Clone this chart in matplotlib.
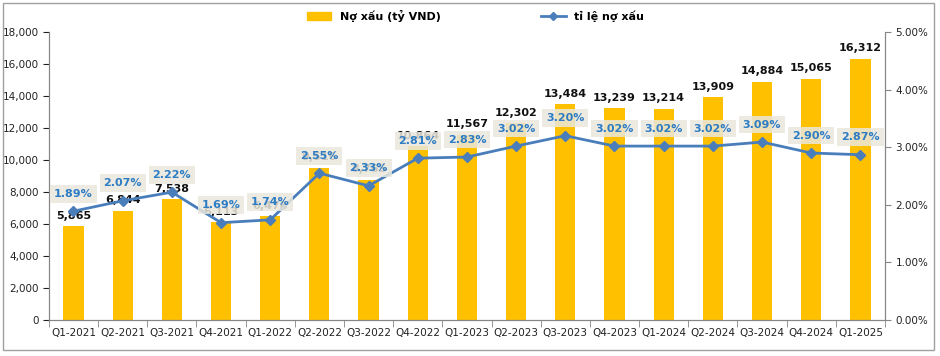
import matplotlib.pyplot as plt
import matplotlib.patches as mpatches
from matplotlib.lines import Line2D
from matplotlib.ticker import FuncFormatter, FixedLocator

quy = ["Q1-2021", "Q2-2021", "Q3-2021", "Q4-2021", "Q1-2022", "Q2-2022", "Q3-2022",
       "Q4-2022", "Q1-2023", "Q2-2023", "Q3-2023", "Q4-2023", "Q1-2024", "Q2-2024",
       "Q3-2024", "Q4-2024", "Q1-2025"]
no_xau = [5865, 6844, 7538, 6113, 6478, 9516, 8765, 10864, 11567, 12302, 13484,
          13239, 13214, 13909, 14884, 15065, 16312]
ti_le = [1.89, 2.07, 2.22, 1.69, 1.74, 2.55, 2.33, 2.81, 2.83, 3.02, 3.20,
         3.02, 3.02, 3.02, 3.09, 2.90, 2.87]

mau_cot = "#FFC000"
mau_duong = "#4A7EBB"
mau_chu_xanh = "#2E7CC4"
mau_truc = "#868686"

plt.rcParams["font.family"] = ["DejaVu Sans"]

fig = plt.figure(figsize=(9.4, 3.56), dpi=100)
ax = fig.add_axes([0.052, 0.101, 0.8895, 0.809])
ax2 = ax.twinx()

x = list(range(len(quy)))
ax.bar(x, no_xau, width=0.41, color=mau_cot, zorder=2)
ax.set_ylim(0, 18000)
ax.set_xlim(-0.5, len(quy) - 0.5)
ax.set_yticks(range(0, 18001, 2000))
ax.yaxis.set_major_formatter(FuncFormatter(lambda v, p: f"{int(v):,}"))
ax.set_xticks(x)
ax.set_xticklabels(quy)
ax.xaxis.set_minor_locator(FixedLocator([i - 0.5 for i in range(len(quy) + 1)]))
ax.tick_params(axis="x", which="major", length=0, labelsize=7.5, pad=6, colors="#222222")
ax.tick_params(axis="x", which="minor", length=5, color=mau_truc, direction="out")
ax.tick_params(axis="y", length=4, color=mau_truc, labelsize=7.5, colors="#222222")

ax2.plot(x, ti_le, color=mau_duong, linewidth=2, marker="D", markersize=5, zorder=3)
ax2.set_ylim(0, 5)
ax2.set_yticks([0, 1, 2, 3, 4, 5])
ax2.yaxis.set_major_formatter(FuncFormatter(lambda v, p: f"{v:.2f}%"))
ax2.tick_params(axis="y", length=4, color=mau_truc, labelsize=7.5, colors="#222222")

for a in (ax, ax2):
    a.spines["top"].set_visible(False)
    for s in ("left", "right", "bottom"):
        a.spines[s].set_color(mau_truc)
ax.tick_params(axis="y", colors="#222222")

# nhan so lieu no xau
for xi, v in zip(x, no_xau):
    ax.annotate(f"{v:,}", (xi, v), xytext=(0, 4), textcoords="offset points",
                ha="center", va="bottom", fontsize=8, fontweight="bold",
                color="#111111", zorder=4)

# nhan ti le
for xi, r in zip(x, ti_le):
    ax2.annotate(f"{r:.2f}%", (xi, r), xytext=(0, 9), textcoords="offset points",
                 ha="center", va="bottom", fontsize=8, fontweight="bold",
                 color=mau_chu_xanh, zorder=5,
                 bbox=dict(boxstyle="square,pad=0.35", fc="#E9E7DC", ec="none", alpha=0.85))

handles = [mpatches.Patch(color=mau_cot, label="Nợ xấu (tỷ VND)"),
           Line2D([0], [0], color=mau_duong, lw=2, marker="D", markersize=4,
                  label="tỉ lệ nợ xấu")]
leg = fig.legend(handles=handles, loc="upper center", bbox_to_anchor=(0.506, 1.0),
                 ncol=2, frameon=False, columnspacing=9, handlelength=2.2,
                 prop={"size": 8, "weight": "bold"})

fig.patches.append(mpatches.Rectangle((3 / 940, 6 / 356), 931 / 940, 347 / 356,
                                      transform=fig.transFigure, fill=False,
                                      ec="#A0A0A0", lw=1))

fig.savefig("out.png", dpi=100)
